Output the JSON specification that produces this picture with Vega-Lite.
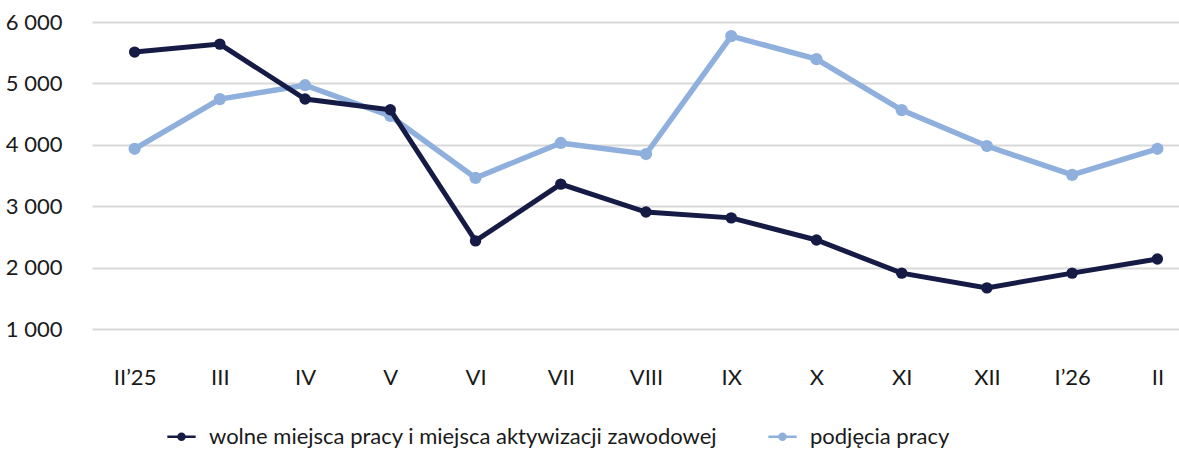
{
  "$schema": "https://vega.github.io/schema/vega-lite/v6.json",
  "width": 1087,
  "height": 307,
  "autosize": "none",
  "padding": {"left": 92, "top": 22, "right": 0, "bottom": 120},
  "background": "white",
  "config": {
    "view": {"stroke": null},
    "font": "Lato",
    "axis": {"labelFont": "Lato", "labelFontSize": 22, "labelColor": "#1a1a1a", "domain": false, "ticks": false, "tickSize": 0, "title": null},
    "legend": {"labelFont": "Lato", "labelFontSize": 22, "labelColor": "#1a1a1a"}
  },
  "data": {
    "values": [
      {"m": "II’25", "s": "wolne miejsca pracy i miejsca aktywizacji zawodowej", "v": 5510},
      {"m": "III", "s": "wolne miejsca pracy i miejsca aktywizacji zawodowej", "v": 5640},
      {"m": "IV", "s": "wolne miejsca pracy i miejsca aktywizacji zawodowej", "v": 4745},
      {"m": "V", "s": "wolne miejsca pracy i miejsca aktywizacji zawodowej", "v": 4570},
      {"m": "VI", "s": "wolne miejsca pracy i miejsca aktywizacji zawodowej", "v": 2435},
      {"m": "VII", "s": "wolne miejsca pracy i miejsca aktywizacji zawodowej", "v": 3360},
      {"m": "VIII", "s": "wolne miejsca pracy i miejsca aktywizacji zawodowej", "v": 2905},
      {"m": "IX", "s": "wolne miejsca pracy i miejsca aktywizacji zawodowej", "v": 2810},
      {"m": "X", "s": "wolne miejsca pracy i miejsca aktywizacji zawodowej", "v": 2450},
      {"m": "XI", "s": "wolne miejsca pracy i miejsca aktywizacji zawodowej", "v": 1910},
      {"m": "XII", "s": "wolne miejsca pracy i miejsca aktywizacji zawodowej", "v": 1670},
      {"m": "I’26", "s": "wolne miejsca pracy i miejsca aktywizacji zawodowej", "v": 1910},
      {"m": "II", "s": "wolne miejsca pracy i miejsca aktywizacji zawodowej", "v": 2140},
      {"m": "II’25", "s": "podjęcia pracy", "v": 3935},
      {"m": "III", "s": "podjęcia pracy", "v": 4745},
      {"m": "IV", "s": "podjęcia pracy", "v": 4970},
      {"m": "V", "s": "podjęcia pracy", "v": 4470},
      {"m": "VI", "s": "podjęcia pracy", "v": 3460},
      {"m": "VII", "s": "podjęcia pracy", "v": 4030},
      {"m": "VIII", "s": "podjęcia pracy", "v": 3850},
      {"m": "IX", "s": "podjęcia pracy", "v": 5770},
      {"m": "X", "s": "podjęcia pracy", "v": 5395},
      {"m": "XI", "s": "podjęcia pracy", "v": 4565},
      {"m": "XII", "s": "podjęcia pracy", "v": 3980},
      {"m": "I’26", "s": "podjęcia pracy", "v": 3510},
      {"m": "II", "s": "podjęcia pracy", "v": 3935}
    ]
  },
  "encoding": {
    "x": {
      "field": "m", "type": "ordinal", "sort": null,
      "scale": {"type": "point", "range": [0, 1108], "padding": 0.5},
      "axis": {"labelAngle": 0, "labelPadding": 38, "grid": false}
    },
    "y": {
      "field": "v", "type": "quantitative",
      "scale": {"domain": [1000, 6000], "nice": false, "zero": false},
      "axis": {"values": [1000, 2000, 3000, 4000, 5000, 6000], "labelExpr": "replace(datum.label, ',', ' ')", "labelPadding": 30, "grid": true, "gridColor": "#d9d9d9", "gridWidth": 2}
    },
    "color": {
      "field": "s", "type": "nominal",
      "scale": {"domain": ["wolne miejsca pracy i miejsca aktywizacji zawodowej", "podjęcia pracy"], "range": ["#161b46", "#8fb0dd"]},
      "legend": {
        "title": null, "orient": "none", "direction": "horizontal",
        "legendX": 75, "legendY": 400, "padding": 0,
        "labelLimit": 1000, "columnPadding": 50, "labelOffset": 13,
        "symbolType": "M-1,-0.09L1,-0.09L1,0.09L-1,0.09Z M-0.3,0A0.3,0.3 0 1,1 0.3,0A0.3,0.3 0 1,1 -0.3,0Z",
        "symbolSize": 800,
        "encode": {"symbols": {"update": {"fill": {"scale": "color", "field": "value"}, "strokeWidth": {"value": 0}, "opacity": {"value": 1}}}}
      }
    }
  },
  "layer": [
    {
      "transform": [{"filter": "datum.s == 'podjęcia pracy'"}],
      "mark": {"type": "line", "strokeWidth": 5.5, "point": {"filled": true, "size": 150, "opacity": 1}}
    },
    {
      "transform": [{"filter": "datum.s != 'podjęcia pracy'"}],
      "mark": {"type": "line", "strokeWidth": 5, "point": {"filled": true, "size": 130, "opacity": 1}}
    }
  ]
}
